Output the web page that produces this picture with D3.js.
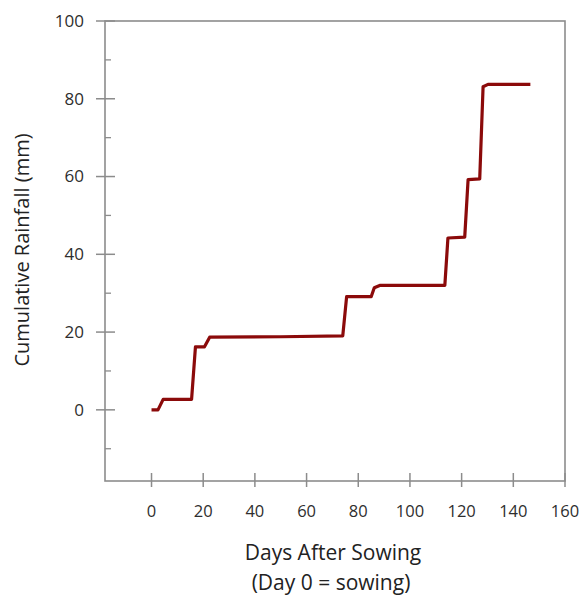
<!DOCTYPE html>
<html>
<head>
<meta charset="utf-8">
<script src="https://cdn.jsdelivr.net/npm/d3@7"></script>
<style>
  body { margin: 0; background: #fff; }
  svg { display: block; font-family: "Open Sans", sans-serif; }
</style>
</head>
<body>
<div id="chart"></div>
<script>
// Cumulative rainfall (vertex by vertex)
var days = [0, 2.5, 4.5, 15.5, 17, 20.5, 22.5, 50, 74, 75.5, 85, 86.2, 88.3, 113.5, 114.7, 121.2, 122.5, 127, 128.3, 130.2, 146.6];
var rain = [0, 0, 2.7, 2.7, 16.2, 16.2, 18.7, 18.8, 19.0, 29.1, 29.1, 31.4, 32.0, 32.0, 44.2, 44.4, 59.2, 59.4, 83.1, 83.7, 83.7];

var xTicks = [0, 20, 40, 60, 80, 100, 120, 140, 160];
var yTicks = [0, 20, 40, 60, 80, 100];
var yMinor = [-10, 10, 30, 50, 70, 90];

var width = 582, height = 595;
var margin = {top: 21, right: 17, bottom: 114, left: 105};
var plotW = width - margin.left - margin.right;
var plotH = height - margin.top - margin.bottom;

var svg = d3.select('#chart').append('svg')
  .attr('width', width)
  .attr('height', height);

var x = d3.scaleLinear().domain([-18, 160]).range([0, plotW]);
var y = d3.scaleLinear().domain([-18.3, 100]).range([plotH, 0]);

var g = svg.append('g')
  .attr('transform', 'translate(' + margin.left + ',' + margin.top + ')');

var axisColor = '#8c8c8c';

// box around the plot area
g.append('rect')
  .attr('x', 0).attr('y', 0)
  .attr('width', plotW).attr('height', plotH)
  .attr('fill', 'none')
  .attr('stroke', axisColor)
  .attr('stroke-width', 1.6);

// y minor ticks (inside only)
g.selectAll('.yminor').data(yMinor).enter().append('line')
  .attr('class', 'yminor')
  .attr('x1', 0).attr('x2', 6)
  .attr('y1', function(d){ return y(d); })
  .attr('y2', function(d){ return y(d); })
  .attr('stroke', axisColor).attr('stroke-width', 1.3);

// y major ticks (crossing)
g.selectAll('.ymajor').data(yTicks).enter().append('line')
  .attr('class', 'ymajor')
  .attr('x1', -9).attr('x2', 10)
  .attr('y1', function(d){ return y(d); })
  .attr('y2', function(d){ return y(d); })
  .attr('stroke', axisColor).attr('stroke-width', 1.5);

g.selectAll('.ylabel').data(yTicks).enter().append('text')
  .attr('class', 'ylabel')
  .attr('x', -21)
  .attr('y', function(d){ return y(d); })
  .attr('dy', '0.35em')
  .attr('text-anchor', 'end')
  .attr('font-size', 17)
  .attr('fill', '#2e2e2e')
  .text(function(d){ return d; });

// x ticks (crossing)
g.selectAll('.xtick').data(xTicks).enter().append('line')
  .attr('class', 'xtick')
  .attr('x1', function(d){ return x(d); })
  .attr('x2', function(d){ return x(d); })
  .attr('y1', plotH - 8).attr('y2', plotH + 6)
  .attr('stroke', axisColor).attr('stroke-width', 1.5);

g.selectAll('.xlabel').data(xTicks).enter().append('text')
  .attr('class', 'xlabel')
  .attr('x', function(d){ return x(d); })
  .attr('y', plotH + 30)
  .attr('dy', '0.35em')
  .attr('text-anchor', 'middle')
  .attr('font-size', 16.5)
  .attr('fill', '#2e2e2e')
  .text(function(d){ return d; });

// the cumulative rainfall line
var line = d3.line()
  .x(function(d){ return x(d[0]); })
  .y(function(d){ return y(d[1]); });

g.append('path')
  .datum(d3.zip(days, rain))
  .attr('d', line)
  .attr('fill', 'none')
  .attr('stroke', '#8b0a0a')
  .attr('stroke-width', 3.2)
  .attr('stroke-linejoin', 'round');

// axis titles
svg.append('text')
  .attr('x', 333).attr('y', 553)
  .attr('dy', '0.35em')
  .attr('text-anchor', 'middle')
  .attr('font-size', 21)
  .attr('fill', '#222')
  .text('Days After Sowing');

svg.append('text')
  .attr('x', 331).attr('y', 583)
  .attr('dy', '0.35em')
  .attr('text-anchor', 'middle')
  .attr('font-size', 21)
  .attr('fill', '#222')
  .text('(Day 0 = sowing)');

svg.append('text')
  .attr('transform', 'translate(22,250) rotate(-90)')
  .attr('dy', '0.35em')
  .attr('text-anchor', 'middle')
  .attr('font-size', 20)
  .attr('fill', '#222')
  .text('Cumulative Rainfall (mm)');
</script>
</body>
</html>
